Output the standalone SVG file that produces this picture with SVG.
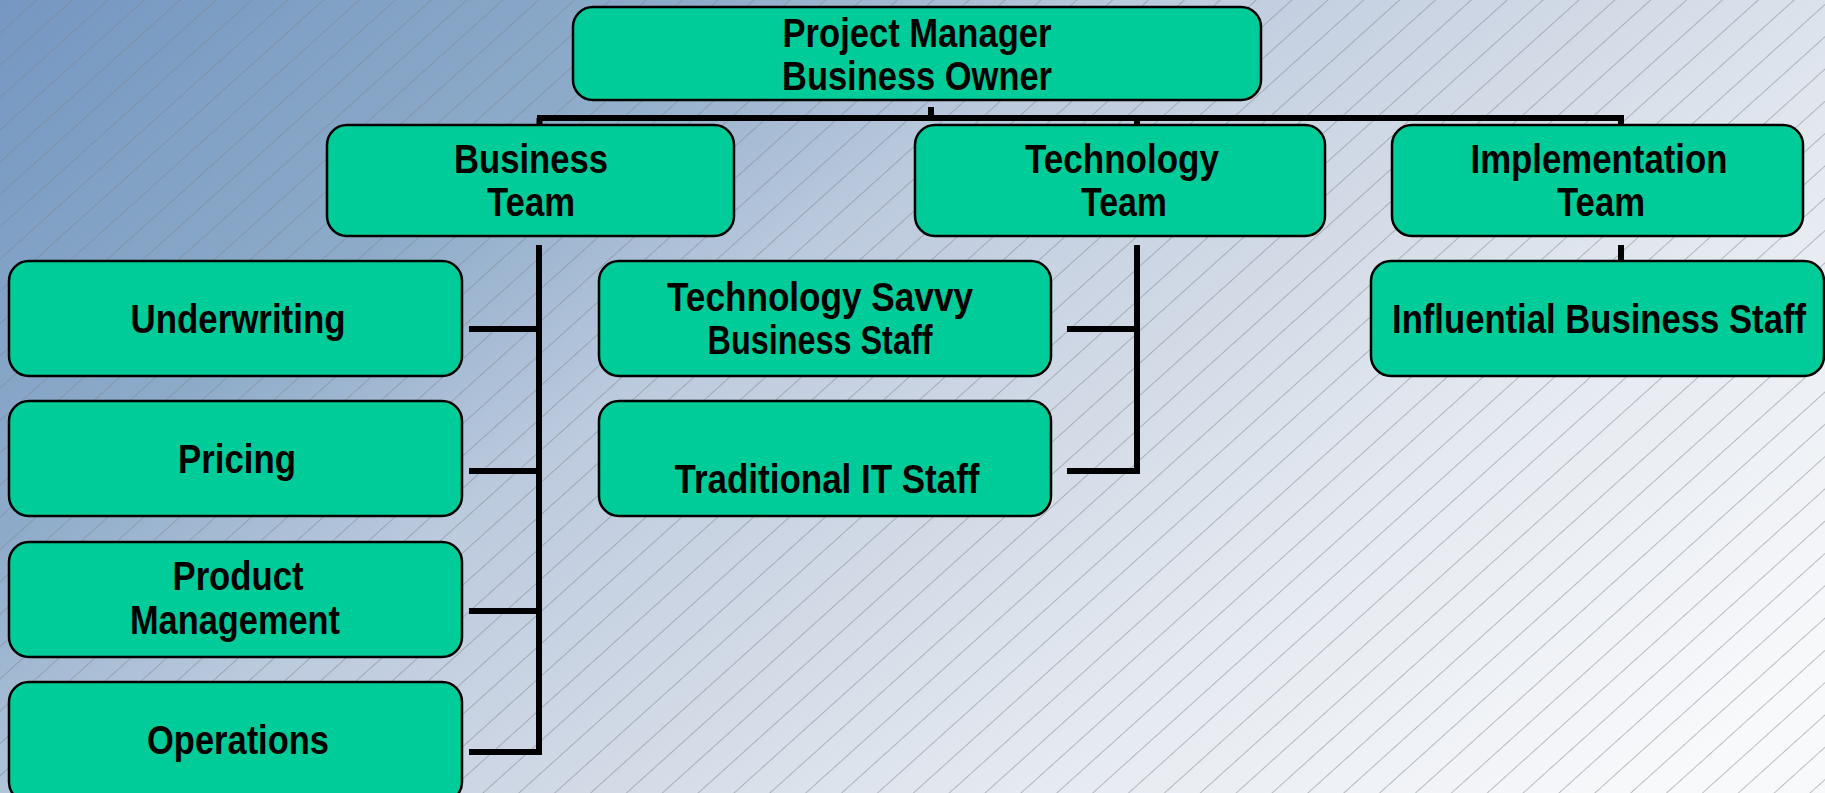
<svg xmlns="http://www.w3.org/2000/svg" width="1825" height="793" viewBox="0 0 1825 793">
<defs>
<linearGradient id="bg" gradientUnits="userSpaceOnUse" x1="0" y1="0" x2="1000" y2="1300">
<stop offset="0" stop-color="#7597c1"/>
<stop offset="0.26" stop-color="#8dabc9"/>
<stop offset="0.42" stop-color="#bccade"/>
<stop offset="0.6" stop-color="#d2dae6"/>
<stop offset="0.75" stop-color="#e4e9f0"/>
<stop offset="1" stop-color="#f8f9fb"/>
</linearGradient>
<pattern id="hatch" patternUnits="userSpaceOnUse" width="40" height="24" patternTransform="rotate(-42)">
<line x1="0" y1="0.5" x2="40" y2="0.5" stroke="#7d838c" stroke-width="1" stroke-opacity="0.5"/>
</pattern>
<style>
.box{fill:#00cc99;stroke:#000;stroke-width:2.5}
.t{font-family:"Liberation Sans",Arial,sans-serif;font-weight:bold;font-size:40px;fill:#000;text-anchor:middle}
.c{fill:none;stroke:#000;stroke-width:6;stroke-linejoin:miter}
</style>
</defs>
<rect x="0" y="0" width="1825" height="793" fill="url(#bg)"/>
<rect x="0" y="0" width="1825" height="793" fill="url(#hatch)"/>
<g id="connectors">
<path class="c" d="M931,107 V118"/>
<path class="c" d="M537,118 H1624"/>
<path class="c" d="M539.5,118 V125 M1137,118 V125 M1621,118 V125"/>
<path class="c" d="M469,752 H539 V245"/>
<path class="c" d="M469,329 H539 M469,471 H539 M469,611 H539"/>
<path class="c" d="M1067,471 H1137 V245"/>
<path class="c" d="M1067,329 H1137"/>
<path class="c" d="M1621,245 V261"/>
</g>
<g id="project-manager">
<rect class="box" x="573" y="7" width="688" height="93" rx="20"/>
<text class="t" x="917" y="47" textLength="269" lengthAdjust="spacingAndGlyphs">Project Manager</text>
<text class="t" x="917" y="90" textLength="270" lengthAdjust="spacingAndGlyphs">Business Owner</text>
</g>
<g id="business-team">
<rect class="box" x="327" y="125" width="407" height="111" rx="20"/>
<text class="t" x="531" y="173" textLength="154" lengthAdjust="spacingAndGlyphs">Business</text>
<text class="t" x="531" y="216" textLength="88" lengthAdjust="spacingAndGlyphs">Team</text>
</g>
<g id="technology-team">
<rect class="box" x="915" y="125" width="410" height="111" rx="20"/>
<text class="t" x="1122" y="173" textLength="194" lengthAdjust="spacingAndGlyphs">Technology</text>
<text class="t" x="1124" y="216" textLength="86" lengthAdjust="spacingAndGlyphs">Team</text>
</g>
<g id="implementation-team">
<rect class="box" x="1392" y="125" width="411" height="111" rx="20"/>
<text class="t" x="1599" y="173" textLength="257" lengthAdjust="spacingAndGlyphs">Implementation</text>
<text class="t" x="1601" y="216" textLength="88" lengthAdjust="spacingAndGlyphs">Team</text>
</g>
<g id="underwriting">
<rect class="box" x="9" y="261" width="453" height="115" rx="20"/>
<text class="t" x="238" y="333" textLength="215" lengthAdjust="spacingAndGlyphs">Underwriting</text>
</g>
<g id="pricing">
<rect class="box" x="9" y="401" width="453" height="115" rx="20"/>
<text class="t" x="237" y="473" textLength="118" lengthAdjust="spacingAndGlyphs">Pricing</text>
</g>
<g id="product-management">
<rect class="box" x="9" y="542" width="453" height="115" rx="20"/>
<text class="t" x="238" y="590" textLength="131" lengthAdjust="spacingAndGlyphs">Product</text>
<text class="t" x="235" y="634" textLength="210" lengthAdjust="spacingAndGlyphs">Management</text>
</g>
<g id="operations">
<rect class="box" x="9" y="682" width="453" height="120" rx="20"/>
<text class="t" x="238" y="754" textLength="182" lengthAdjust="spacingAndGlyphs">Operations</text>
</g>
<g id="technology-savvy">
<rect class="box" x="599" y="261" width="452" height="115" rx="20"/>
<text class="t" x="820" y="311" textLength="306" lengthAdjust="spacingAndGlyphs">Technology Savvy</text>
<text class="t" x="820" y="354" textLength="225" lengthAdjust="spacingAndGlyphs">Business Staff</text>
</g>
<g id="traditional-it">
<rect class="box" x="599" y="401" width="452" height="115" rx="20"/>
<text class="t" x="827" y="493" textLength="305" lengthAdjust="spacingAndGlyphs">Traditional IT Staff</text>
</g>
<g id="influential">
<rect class="box" x="1371" y="261" width="453" height="115" rx="20"/>
<text class="t" x="1599" y="333" textLength="414" lengthAdjust="spacingAndGlyphs">Influential Business Staff</text>
</g>
</svg>
